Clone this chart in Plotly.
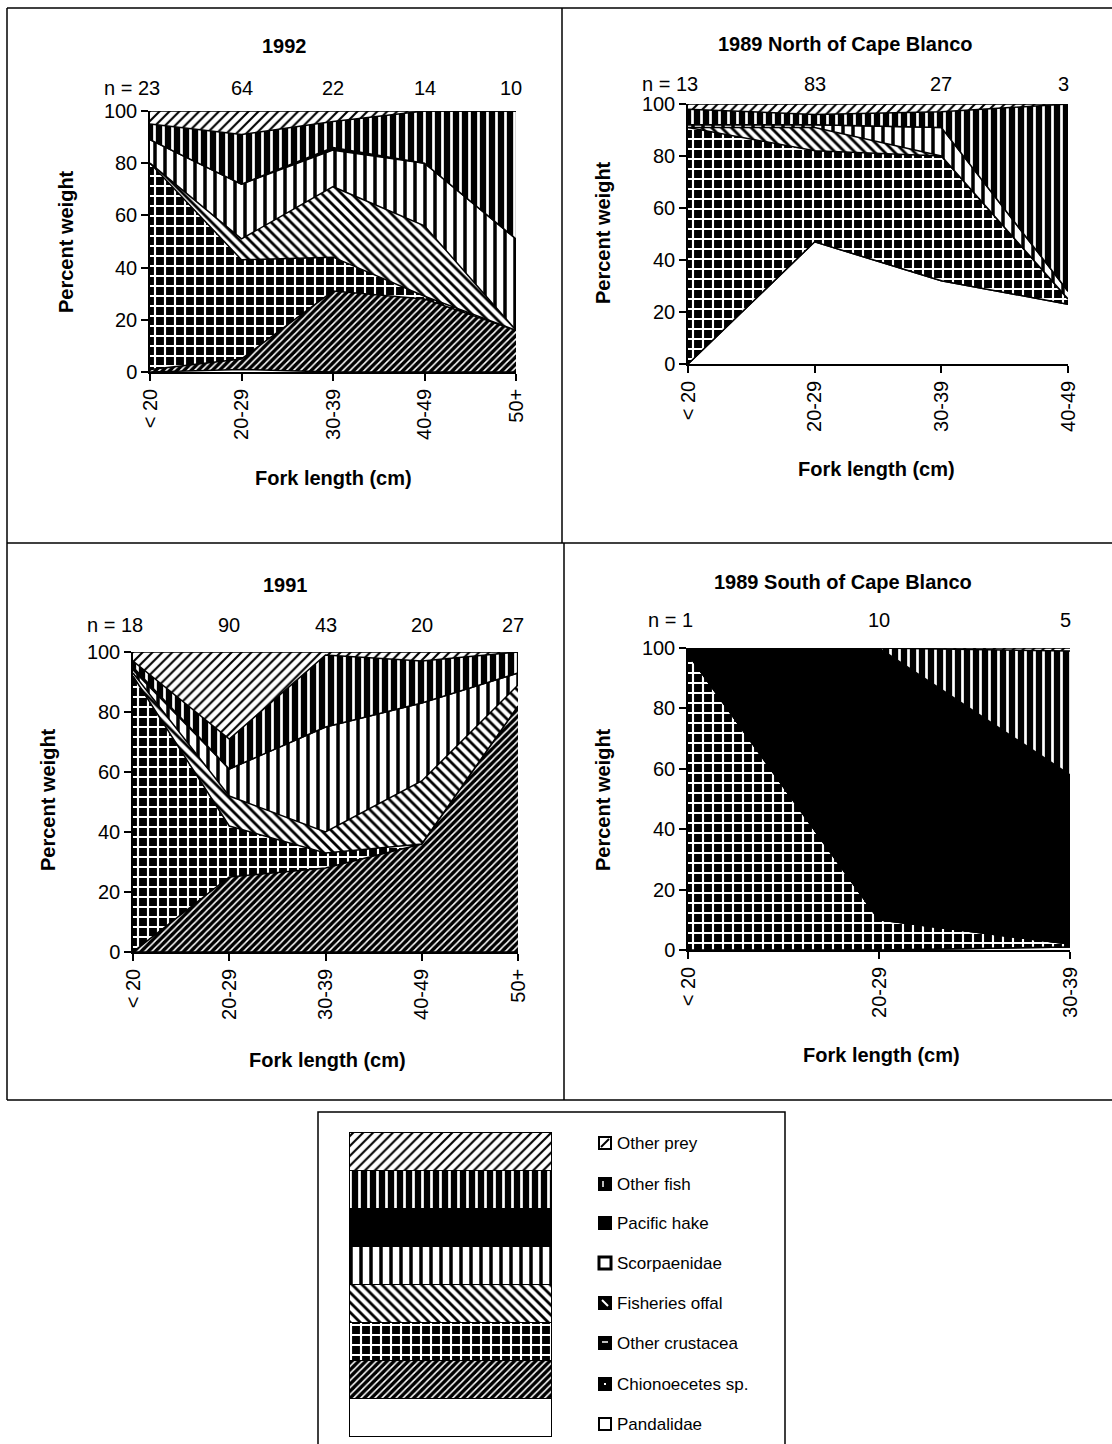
import plotly.graph_objects as go

W, H = 1112, 1444

# ---- categories (fork length classes) ----
cats_1992 = ["< 20", "20-29", "30-39", "40-49", "50+"]
cats_north = ["< 20", "20-29", "30-39", "40-49"]
cats_1991 = ["< 20", "20-29", "30-39", "40-49", "50+"]
cats_south = ["< 20", "20-29", "30-39"]

# ---- sample sizes ----
n_1992 = [23, 64, 22, 14, 10]
n_north = [13, 83, 27, 3]
n_1991 = [18, 90, 43, 20, 27]
n_south = [1, 10, 5]

# ---- percent weight, 1992 ----
p92_pandalidae = [0, 1, 0, 0, 0]
p92_chionoecetes = [1, 4, 31, 28, 16]
p92_crustacea = [79, 38, 13, 1, 0]
p92_offal = [0, 8, 27, 27, 0]
p92_scorpaenidae = [9, 21, 14, 24, 35]
p92_hake = [0, 0, 1, 0, 0]
p92_otherfish = [6, 19, 10, 20, 49]
p92_otherprey = [5, 9, 4, 0, 0]

# ---- percent weight, 1989 north of Cape Blanco ----
pn_pandalidae = [0, 47, 32, 23]
pn_chionoecetes = [0, 0, 0, 0]
pn_crustacea = [91, 35, 48, 2]
pn_offal = [0, 9, 0, 0]
pn_scorpaenidae = [1, 1, 11, 3]
pn_hake = [0, 0, 0, 0]
pn_otherfish = [6, 4, 6, 72]
pn_otherprey = [2, 4, 3, 0]

# ---- percent weight, 1991 ----
p91_pandalidae = [0, 0, 0, 0, 0]
p91_chionoecetes = [0, 25, 28, 36, 82]
p91_crustacea = [92, 17, 5, 0, 0]
p91_offal = [1, 10, 7, 21, 7]
p91_scorpaenidae = [1, 9, 35, 26, 4]
p91_hake = [1, 0, 0, 0, 0]
p91_otherfish = [2, 10, 24, 14, 7]
p91_otherprey = [3, 29, 1, 3, 0]

# ---- percent weight, 1989 south of Cape Blanco ----
ps_pandalidae = [0, 0, 1]
ps_chionoecetes = [0, 0, 0]
ps_crustacea = [98, 10, 1]
ps_offal = [0, 0, 0]
ps_scorpaenidae = [0, 0, 0]
ps_hake = [2, 90, 56]
ps_otherfish = [0, 0, 41]
ps_otherprey = [0, 0, 1]

prey_groups = ["Pandalidae", "Chionoecetes sp.", "Other crustacea", "Fisheries offal",
               "Scorpaenidae", "Pacific hake", "Other fish", "Other prey"]

# fill style of each prey group (black & white hatching)
STYLE = {
    "Pandalidae": dict(bg="white", shape="", fg="black", size=8, sol=0.3),
    "Chionoecetes sp.": dict(bg="black", shape="/", fg="white", size=5, sol=0.3),
    "Other crustacea": dict(bg="black", shape="+", fg="white", size=10, sol=0.38),
    "Fisheries offal": dict(bg="white", shape="\\", fg="black", size=7, sol=0.4),
    "Scorpaenidae": dict(bg="white", shape="|", fg="black", size=10, sol=0.35),
    "Pacific hake": dict(bg="black", shape="", fg="black", size=8, sol=0.3),
    "Other fish": dict(bg="black", shape="|", fg="white", size=9, sol=0.3),
    "Other prey": dict(bg="white", shape="/", fg="black", size=7, sol=0.3),
}

# small key-box look: (fill, inner mark, mark colour)
KEYBOX = {
    "Other prey": ("white", "slash", "black"),
    "Other fish": ("black", "vbar", "white"),
    "Pacific hake": ("black", "", "white"),
    "Scorpaenidae": ("white", "thick", "black"),
    "Fisheries offal": ("black", "back", "white"),
    "Other crustacea": ("black", "hbar", "white"),
    "Chionoecetes sp.": ("black", "dot", "white"),
    "Pandalidae": ("white", "", "black"),
}

FONT = "Liberation Sans, Arial, sans-serif"


def px_x(x):
    return x / W


def px_y(y):
    return 1 - y / H


def label(text, x, y, size=20, angle=0, xanchor="center"):
    return dict(text=text, xref="paper", yref="paper", x=px_x(x), y=px_y(y),
                xanchor=xanchor, yanchor="middle", textangle=angle, showarrow=False,
                font=dict(family=FONT, size=size, color="black"))


fig = go.Figure()

panels = [
    dict(ax="", cats=cats_1992, n=n_1992, title="1992",
         data=[p92_pandalidae, p92_chionoecetes, p92_crustacea, p92_offal,
               p92_scorpaenidae, p92_hake, p92_otherfish, p92_otherprey],
         box=(150, 516, 111, 372), title_xy=(284, 46), n_y=88,
         xt_xy=(333, 478), yt_xy=(66, 242)),
    dict(ax="2", cats=cats_north, n=n_north, title="1989 North of Cape Blanco",
         data=[pn_pandalidae, pn_chionoecetes, pn_crustacea, pn_offal,
               pn_scorpaenidae, pn_hake, pn_otherfish, pn_otherprey],
         box=(688, 1068, 104, 364), title_xy=(845, 44), n_y=84,
         xt_xy=(876, 469), yt_xy=(603, 233)),
    dict(ax="3", cats=cats_1991, n=n_1991, title="1991",
         data=[p91_pandalidae, p91_chionoecetes, p91_crustacea, p91_offal,
               p91_scorpaenidae, p91_hake, p91_otherfish, p91_otherprey],
         box=(133, 518, 652, 952), title_xy=(285, 585), n_y=625,
         xt_xy=(327, 1060), yt_xy=(48, 800)),
    dict(ax="4", cats=cats_south, n=n_south, title="1989 South of Cape Blanco",
         data=[ps_pandalidae, ps_chionoecetes, ps_crustacea, ps_offal,
               ps_scorpaenidae, ps_hake, ps_otherfish, ps_otherprey],
         box=(688, 1070, 648, 950), title_xy=(843, 582), n_y=620,
         xt_xy=(881, 1055), yt_xy=(603, 800)),
]

annotations = []
shapes = []
layout_axes = {}

for i, p in enumerate(panels):
    xa = "x" + p["ax"]
    ya = "y" + p["ax"]
    for name, vals in zip(prey_groups, p["data"]):
        st = STYLE[name]
        kw = dict(fillcolor=st["bg"])
        if st["shape"]:
            kw["fillpattern"] = dict(shape=st["shape"], fgcolor=st["fg"], bgcolor=st["bg"],
                                     size=st["size"], solidity=st["sol"], fillmode="replace")
        fig.add_trace(go.Scatter(
            x=p["cats"], y=vals, name=name, mode="lines",
            line=dict(color="black", width=1.5),
            stackgroup="s" + str(i), xaxis=xa, yaxis=ya,
            showlegend=False, **kw))

    x0, x1, y0, y1 = p["box"]
    xkey = "xaxis" + p["ax"]
    ykey = "yaxis" + p["ax"]
    layout_axes[xkey] = dict(
        domain=[px_x(x0), px_x(x1)], anchor=ya, type="category",
        range=[0, len(p["cats"]) - 1], showline=True, linecolor="black", linewidth=1.5,
        ticks="outside", ticklen=7, tickcolor="black", tickwidth=1.5,
        tickangle=-90, showgrid=False, zeroline=False, automargin=False,
        tickfont=dict(family=FONT, size=20, color="black"))
    layout_axes[ykey] = dict(
        domain=[px_y(y1), px_y(y0)], anchor=xa, range=[0, 100],
        tickvals=[0, 20, 40, 60, 80, 100], showline=True, linecolor="black",
        linewidth=1.5, ticks="outside", ticklen=7, tickcolor="black", tickwidth=1.5,
        showgrid=False, zeroline=False, automargin=False,
        tickfont=dict(family=FONT, size=20, color="black"))

    annotations.append(label("<b>%s</b>" % p["title"], *p["title_xy"]))
    annotations.append(label("<b>Fork length (cm)</b>", *p["xt_xy"]))
    annotations.append(label("<b>Percent weight</b>", *p["yt_xy"], angle=-90))

    # sample sizes above each length class
    for j, (c, n) in enumerate(zip(p["cats"], p["n"])):
        if j == 0:
            annotations.append(dict(
                text="n = %d" % n, xref=xa, yref="paper", x=c, y=px_y(p["n_y"]),
                xanchor="right", yanchor="middle", xshift=1 + 5.5 * len(str(n)),
                showarrow=False, font=dict(family=FONT, size=20, color="black")))
        else:
            xs = -5 if j == len(p["cats"]) - 1 else 0
            annotations.append(dict(
                text=str(n), xref=xa, yref="paper", x=c, y=px_y(p["n_y"]),
                xanchor="center", yanchor="middle", xshift=xs, showarrow=False,
                font=dict(family=FONT, size=20, color="black")))

# ---- key: stacked swatches drawn as a single stacked bar ----
legend_order = list(reversed(prey_groups))  # top to bottom in the key
for name in prey_groups:
    st = STYLE[name]
    marker = dict(color=st["bg"], line=dict(color="black", width=1.5))
    if st["shape"]:
        marker["pattern"] = dict(shape=st["shape"], fgcolor=st["fg"], bgcolor=st["bg"],
                                 size=st["size"], solidity=st["sol"], fillmode="replace")
    fig.add_trace(go.Bar(x=[0], y=[1], width=1, marker=marker, name=name,
                         xaxis="x5", yaxis="y5", showlegend=False))

# axis slightly larger than the bar so its outline is not clipped
layout_axes["xaxis5"] = dict(domain=[px_x(346), px_x(556)], anchor="y5",
                             range=[-0.52, 0.52], visible=False, fixedrange=True)
layout_axes["yaxis5"] = dict(domain=[px_y(1440), px_y(1130)], anchor="x5",
                             range=[-0.08, 8.08], visible=False, fixedrange=True)


def pline(xa_, ya_, xb_, yb_, color, w):
    shapes.append(dict(type="line", xref="paper", yref="paper",
                       x0=px_x(xa_), x1=px_x(xb_), y0=px_y(ya_), y1=px_y(yb_),
                       line=dict(color=color, width=w)))


# key labels with small key boxes
label_y = [1143, 1184, 1223, 1263, 1303, 1343, 1384, 1424]
for name, ly in zip(legend_order, label_y):
    annotations.append(label(name, 615, ly, size=17, xanchor="left"))
    fill, mark, mcol = KEYBOX[name]
    bx0, bx1, by0, by1 = 599, 611, ly - 6, ly + 6
    shapes.append(dict(type="rect", xref="paper", yref="paper",
                       x0=px_x(bx0), x1=px_x(bx1), y0=px_y(by1), y1=px_y(by0),
                       line=dict(color="black", width=3 if mark == "thick" else 2),
                       fillcolor=fill))
    if mark == "slash":
        pline(bx0 + 2, by1 - 2, bx1 - 2, by0 + 2, mcol, 2)
    elif mark == "back":
        pline(bx0 + 3, by0 + 3, bx1 - 3, by1 - 3, mcol, 2)
    elif mark == "hbar":
        pline(bx0 + 3, ly - 1, bx1 - 3, ly - 1, mcol, 1.5)
    elif mark == "vbar":
        pline(bx0 + 4, by0 + 3, bx0 + 4, by1 - 3, mcol, 1.5)
    elif mark == "dot":
        shapes.append(dict(type="rect", xref="paper", yref="paper",
                           x0=px_x(604), x1=px_x(606), y0=px_y(ly + 1), y1=px_y(ly - 1),
                           line=dict(width=0), fillcolor=mcol))


# ---- panel frames and key box ----
def hline(y, xa_, xb_, w=1.5):
    pline(xa_, y, xb_, y, "black", w)


def vline(x, ya_, yb_, w=1.5):
    pline(x, ya_, x, yb_, "black", w)


hline(8, 7, 1112)
hline(543, 7, 1112)
hline(1100, 7, 1112)
vline(7, 8, 1100)
vline(562, 8, 543)
vline(564, 543, 1100)
shapes.append(dict(type="rect", xref="paper", yref="paper", x0=px_x(318), x1=px_x(785),
                   y0=px_y(1450), y1=px_y(1112), line=dict(color="black", width=1.5)))

fig.update_layout(
    width=W, height=H, margin=dict(l=0, r=0, t=0, b=0, pad=0, autoexpand=False),
    paper_bgcolor="white", plot_bgcolor="white",
    barmode="stack", bargap=0,
    annotations=annotations, shapes=shapes,
    font=dict(family=FONT, color="black"),
    **layout_axes)

fig.write_html("out.html")
